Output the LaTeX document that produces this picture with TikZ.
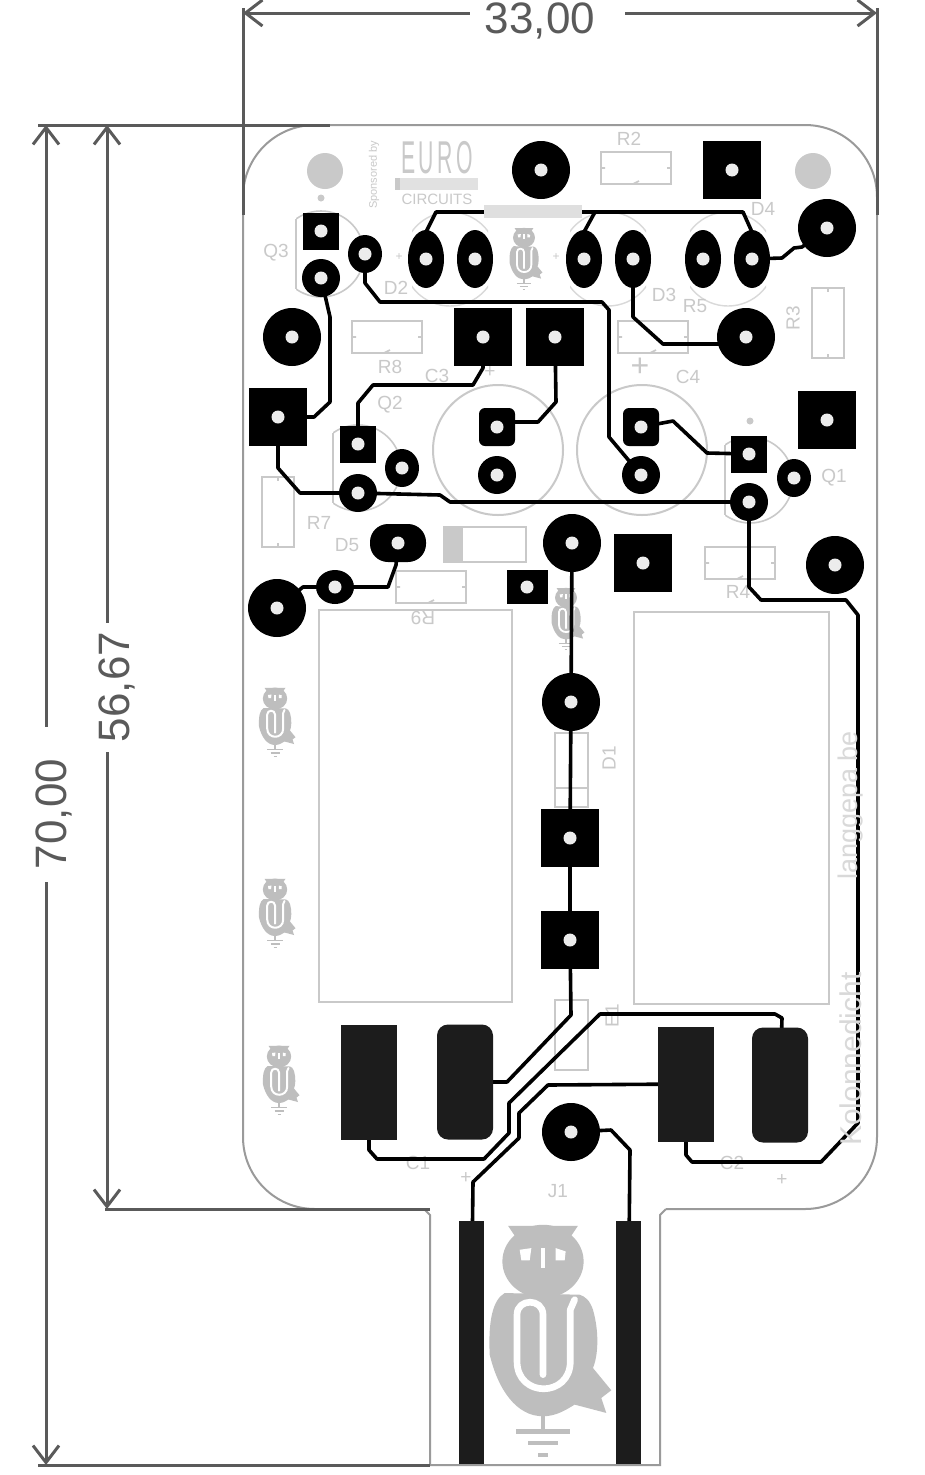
\documentclass[tikz,border=0pt]{standalone}
\usepackage{fontspec}
\setmainfont{Liberation Sans}
\usetikzlibrary{arrows.meta,shapes.geometric}
\pgfdeclarelayer{pads}
\pgfsetlayers{main,pads}
\definecolor{silk}{HTML}{C9C9C9}
\definecolor{owlc}{HTML}{BEBEBE}
\definecolor{dimc}{HTML}{5A5A5A}
\definecolor{edgec}{HTML}{9A9A9A}
\definecolor{holec}{HTML}{ECECEC}
\definecolor{smdc}{HTML}{1C1C1C}
\tikzset{
  padbase/.style={fill=black,draw=none,inner sep=0pt,outer sep=0pt},
  bigr/.style={padbase,circle,minimum size=58pt},
  bigs/.style={padbase,rectangle,minimum size=58pt},
  smallr/.style={padbase,circle,minimum size=38pt},
  smalls/.style={padbase,rectangle,minimum width=36pt,minimum height=37pt},
  rounds/.style={padbase,rectangle,rounded corners=6pt,minimum width=36pt,minimum height=38pt},
  tiny/.style={padbase,ellipse,minimum width=34pt,minimum height=38pt},
  oval/.style={padbase,ellipse,minimum width=36pt,minimum height=58pt},
  dfive/.style={padbase,rectangle,rounded corners=18pt,minimum width=56pt,minimum height=38pt},
  sqsm/.style={padbase,rectangle,minimum width=41pt,minimum height=34pt},
  flat/.style={padbase,ellipse,minimum width=38pt,minimum height=34pt},
  smd/.style={fill=smdc,draw=none,inner sep=0pt,outer sep=0pt,rectangle,minimum width=56pt,minimum height=115pt},
  smdr/.style={smd,rounded corners=11pt},
  trace/.style={draw=black,line width=3.6pt,line join=round,line cap=round},
  finger/.style={fill=smdc,draw=none,inner sep=0pt,outer sep=0pt,rectangle,minimum width=25pt,minimum height=243pt},
  silkbox/.style={draw=silk,line width=2pt,fill=none},
  silkthin/.style={draw=silk,line width=1.6pt,fill=none},
  lab/.style={text=silk,font=\fontsize{19}{19}\selectfont,inner sep=0pt},
  dim/.style={draw=dimc,line width=3pt},
  dimarrow/.style={dim,{Straight Barb[length=17pt,width=26pt,line width=3pt]}-},
  dimtext/.style={text=dimc,font=\fontsize{44}{44}\selectfont,inner sep=0pt},
  edge/.style={draw=edgec,line width=2pt},
}
\newcommand\pad[4]{\node[#1] (#2) at (#3,#4) {};
  \fill[holec] (#3,#4) circle[radius=6.5];}
\newcommand\reshor[2]{\draw[silkbox] (#1-35,#2-16) rectangle (#1+35,#2+16);
  \draw[silkthin] (#1-35,#2) -- (#1-31,#2) (#1+31,#2) -- (#1+35,#2) (#1-3,#2+16) -- (#1+3,#2+13);}
\newcommand\resver[2]{\draw[silkbox] (#1-16,#2-35) rectangle (#1+16,#2+35);
  \draw[silkthin] (#1,#2-35) -- (#1,#2-31) (#1,#2+31) -- (#1,#2+35);}
\newcommand\tran[2]{\draw[silkthin] (#1-25,#2-35) -- (#1-25,#2+35);
  \begin{scope}\clip (#1-25,#2-60) rectangle (#1+60,#2+60);
  \draw[silkthin] (#1,#2) circle[radius=43];\end{scope}}
\newcommand\diodeo[2]{\begin{scope}\clip (#1-38,#2-60) rectangle (#1+38,#2+60);
  \draw[draw=silk!70,line width=1.4pt] (#1,#2) circle[radius=47];\end{scope}}
\newcommand\owl[3]{\begin{scope}[shift={(#1,#2)},scale=#3]
  \fill[owlc] (0,-215) ellipse[x radius=122,y radius=110];
  \fill[owlc] (-105,-322) -- (105,-322) -- (80,-285) -- (-80,-285) -- cycle;
  \fill[owlc] (-115,-120) .. controls (-150,-100) and (-165,-40) .. (-160,65)
     .. controls (-135,170) and (-80,250) .. (0,250)
     .. controls (40,250) and (70,230) .. (95,215) -- (190,240) -- (175,195) -- (205,172)
     -- (150,105) .. controls (165,70) and (170,0) .. (150,-70) .. controls (140,-100) and (125,-110) .. (110,-115) -- cycle;
  \draw[white,line width=#3*20,line cap=round,line join=round] (0,125) -- (0,-55) .. controls (0,-105) and (-78,-105) .. (-78,-55) -- (-78,85)
     .. controls (-78,195) and (82,195) .. (82,85) -- (82,-70) -- (95,-100);
  \fill[white] (-70,-250) -- (-35,-255) -- (-40,-218) -- (-65,-218) -- cycle;
  \fill[white] (38,-255) -- (68,-245) -- (65,-218) -- (38,-218) -- cycle;
  \fill[white] (-6,-255) rectangle (6,-195);
  \draw[owlc,line width=#3*14] (0,245) -- (0,295) (-80,295) -- (80,295);
  \draw[owlc,line width=#3*14] (-45,330) -- (45,330);
  \draw[owlc,line width=#3*12] (-15,365) -- (15,365);
\end{scope}}
\begin{document}
\begin{tikzpicture}[x=1pt,y=-1pt]
\useasboundingbox (0,0) rectangle (924,1475);
\fill[white] (0,0) rectangle (924,1475);

% ---------- board outline
\draw[edge,rounded corners=72pt] (666,1209) -- (877,1209) -- (877,125) -- (243,125) -- (243,1209) -- (424,1209);
\draw[edge] (424,1209) -- (430,1215) -- (430,1465) -- (660,1465) -- (660,1215) -- (666,1209);

% ---------- silk: logos
\owl{543}{1333}{0.333}
\owl{275}{720}{0.1}
\owl{275}{911}{0.1}
\owl{279}{1078}{0.1}
\owl{524}{257}{0.09}
\owl{566}{617}{0.09}

% ---------- silk: mounting marks
\fill[silk] (325,171) circle[radius=18];
\fill[silk] (813,171) circle[radius=18];

% ---------- silk: components
\reshor{636}{168}
\reshor{387}{337}
\reshor{653}{337}
\resver{828}{323}
\resver{278}{512}
\reshor{431}{587}
\reshor{740}{563}
\draw[silkbox] (444,527) rectangle (526,562);
\fill[silk] (444,527) rectangle (463,562);
\draw[silkbox] (319,610) rectangle (512,1002);
\draw[silkbox] (634,612) rectangle (829,1004);
\draw[silkthin] (555,733) rectangle (588,807) (555,788) -- (588,788);
\draw[silkbox] (555,1000) rectangle (588,1070);
\draw[silkbox] (498,450) circle[radius=65];
\draw[silkbox] (642,450) circle[radius=65];
\tran{321}{254}
\tran{358}{468}
\tran{750}{480}
\diodeo{450}{259}
\diodeo{608}{259}
\diodeo{728}{259}

% ---------- silk: labels
\node[lab] (lR2) at (629,139) {R2};
\node[lab] (lR8) at (390,367) {R8};
\node[lab] (lR5) at (695,306) {R5};
\node[lab,rotate=90] (lR3) at (793,318) {R3};
\node[lab] (lR7) at (319,523) {R7};
\node[lab,rotate=180] (lR9) at (423,618) {R9};
\node[lab] (lR4) at (738,592) {R4};
\node[lab] (lQ3) at (276,253) {Q3};
\node[lab] (lQ2) at (390,405) {Q2};
\node[lab] (lQ1) at (834,478) {Q1};
\node[lab] (lD2) at (396,288) {D2};
\node[lab] (lD3) at (664,295) {D3};
\node[lab] (lD4) at (763,209) {D4};
\node[lab] (lD5) at (347,545) {D5};
\node[lab] (lC3) at (437,376) {C3};
\node[lab] (lC4) at (688,377) {C4};
\node[lab,rotate=90] (lD1) at (609,758) {D1};
\node[lab,rotate=90] (lE1) at (612,1016) {E1};
\node[lab] (lC1) at (418,1163) {C1};
\node[lab] (lC2) at (732,1163) {C2};
\node[lab] (lJ1) at (558,1191) {J1};
\node[text=silk,font=\fontsize{32}{32}\selectfont,inner sep=0pt] (lp1) at (640,367) {+};
\node[lab] (lp2) at (490,372) {+};
\node[lab] (lp3) at (782,1180) {+};
\node[lab] (lp4) at (466,1178) {+};
\node[lab,font=\fontsize{12}{12}\selectfont] (lp5) at (399,257) {+};
\node[lab,font=\fontsize{12}{12}\selectfont] (lp6) at (556,257) {+};
\fill[silk] (321,198) circle[radius=3.5];
\fill[silk] (750,421) circle[radius=3.5];
\node[lab,font=\fontsize{11}{11}\selectfont,rotate=90] (lsp) at (374,175) {Sponsored by};
\node[text=silk,font=\fontsize{46}{46}\selectfont,xscale=.46,inner sep=0pt] (leuro) at (437,158) {E\,U\,R\,O};
\fill[silk!55] (400,178) rectangle (478,190);
\fill[silk] (395,178) rectangle (400,190);
\node[text=silk,font=\fontsize{15}{15}\selectfont,inner sep=0pt] (lcirc) at (437,199) {CIRCUITS};

% ---------- pads
\begin{pgfonlayer}{pads}
\pad{bigr}{pA}{541}{170}
\pad{bigs}{pB}{732}{170}
\pad{smalls}{q3a}{321}{231}
\pad{smallr}{q3c}{321}{278}
\pad{tiny}{q3b}{365}{254}
\pad{oval}{d2a}{426}{259}
\pad{oval}{d2b}{475}{259}
\pad{oval}{d3a}{584}{259}
\pad{oval}{d3b}{633}{259}
\pad{oval}{d4a}{703}{259}
\pad{oval}{d4b}{752}{259}
\pad{bigr}{pC}{827}{228}
\pad{bigr}{pD}{292}{337}
\pad{bigs}{pE}{483}{337}
\pad{bigs}{pF}{555}{337}
\pad{bigr}{pG}{746}{337}
\pad{bigs}{pH}{278}{417}
\pad{smalls}{q2a}{358}{444}
\pad{tiny}{q2b}{402}{468}
\pad{smallr}{q2c}{358}{493}
\pad{rounds}{c3a}{497}{427}
\pad{smallr}{c3b}{497}{475}
\pad{rounds}{c4a}{641}{427}
\pad{smallr}{c4b}{641}{475}
\pad{smalls}{q1a}{749}{454}
\pad{tiny}{q1b}{794}{478}
\pad{smallr}{q1c}{749}{502}
\pad{bigs}{pI}{827}{420}
\pad{dfive}{d5a}{398}{543}
\pad{bigr}{pJ}{572}{543}
\pad{bigs}{pK}{643}{563}
\pad{bigr}{pL}{835}{565}
\pad{sqsm}{pM}{527}{587}
\pad{flat}{d5b}{335}{587}
\pad{bigr}{pN}{277}{608}
\pad{bigr}{pO}{571}{702}
\pad{bigs}{pP}{570}{838}
\pad{bigs}{pQ}{570}{940}
\pad{bigr}{pR}{571}{1132}
\node[smd] (s1) at (369,1082) {};
\node[smdr] (s2) at (465,1082) {};
\node[smd] (s3) at (686,1084) {};
\node[smdr] (s4) at (780,1085) {};
\node[finger] (f1) at (471,1342) {};
\node[finger] (f2) at (628,1342) {};
\end{pgfonlayer}

% ---------- traces
\draw[trace] (d2a.center) -- (426,232) -- (436,212) -- (595,212) -- (584,232) -- (d3a.center);
\draw[trace] (595,212) -- (743,212) -- (752,232) -- (d4b.center);
\draw[trace] (q3b.center) -- (365,283) -- (380,302) -- (602,302) -- (609,310) -- (609,437) -- (c4b.center);
\draw[trace] (d3b.center) -- (633,317) -- (663,344) -- (746,344);
\draw[trace] (d4b.center) -- (782,258) -- (794,248) -- (802,247) -- (pC.center);
\draw[trace] (q3c.center) -- (330,317) -- (330,402) -- (314,417) -- (pH.center);
\draw[trace] (pE.center) -- (483,368) -- (473,385) -- (373,385) -- (358,403) -- (q2a.center);
\draw[trace] (pF.center) -- (556,402) -- (538,422) -- (497,422);
\draw[trace] (c4a.center) -- (673,421) -- (707,453) -- (q1a.center);
\draw[trace] (pH.center) -- (278,468) -- (300,493) -- (q2c.center);
\draw[trace] (q2c.center) -- (440,495) -- (450,502) -- (q1c.center);
\draw[trace] (q1c.center) -- (749,587) -- (761,600) -- (846,600) -- (858,615) -- (858,1123) -- (821,1162) -- (692,1162) -- (686,1155) -- (686,1130);
\draw[trace] (d5a.center) -- (396,565) -- (388,587) -- (d5b.center);
\draw[trace] (d5b.center) -- (303,587) -- (pN.center);
\draw[trace] (pJ.center) -- (571,702) -- (570,838) -- (pQ.center) -- (571,1015) -- (507,1082) -- (s2.center);
\draw[trace] (s4.center) -- (782,1018) -- (775,1014) -- (600,1014) -- (509,1103) -- (509,1133) -- (484,1159) -- (377,1159) -- (369,1150) -- (s1.center);
\draw[trace] (s3.center) -- (548,1085) -- (519,1113) -- (519,1138) -- (473,1182) -- (f1.center);
\draw[trace] (pR.center) -- (611,1130) -- (630,1150) -- (f2.center);

% ---------- silk printed over the copper
\fill[silk!60] (484,205) rectangle (582,218);
\node[text=silk!70,font=\fontsize{30}{30}\selectfont,rotate=90,anchor=west,inner sep=0pt] (lk1) at (851,1146) {Kolonnedicht};
\node[text=silk!70,font=\fontsize{27}{27}\selectfont,rotate=90,anchor=west,inner sep=0pt] (lk2) at (851,880) {langgepa be};

% ---------- dimensions
\coordinate (ex1) at (243,13);
\coordinate (ex2) at (877,13);
\coordinate (ey1) at (46,125);
\coordinate (ey2) at (46,1465);
\coordinate (ez1) at (107,125);
\coordinate (ez2) at (107,1209);
\node[dimtext] (t33) at (540,21) {33,00};
\node[dimtext,rotate=90] (t70) at (54,814) {70,00};
\node[dimtext,rotate=90] (t56) at (117,687) {56,67};
\draw[dim] (243,8) -- (243,215);
\draw[dim] (877,8) -- (877,215);
\draw[dim] (38,125) -- (330,125);
\draw[dim] (105,1209) -- (430,1209);
\draw[dim] (38,1465) -- (430,1465);
\draw[dimarrow] (ex1) -- (470,13);
\draw[dimarrow] (ex2) -- (625,13);
\draw[dimarrow] (ey1) -- (46,727);
\draw[dimarrow] (ey2) -- (46,882);
\draw[dimarrow] (ez1) -- (107,623);
\draw[dimarrow] (ez2) -- (107,752);
\end{tikzpicture}
\end{document}
